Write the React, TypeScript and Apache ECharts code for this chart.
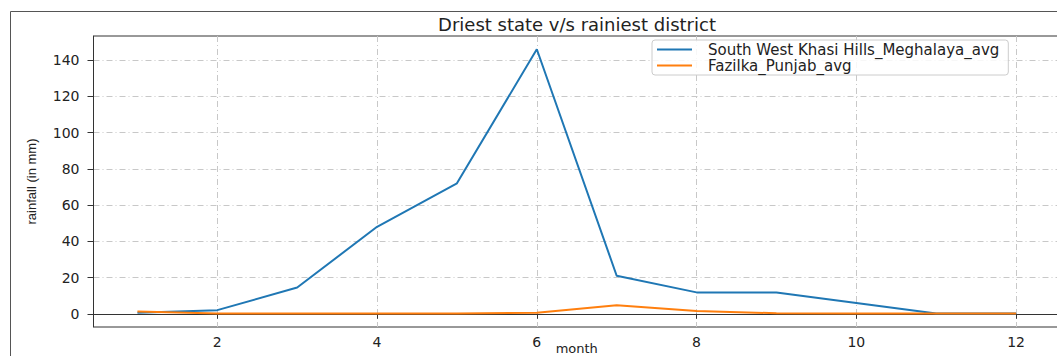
import React, { useEffect, useRef } from "react";
import * as echarts from "echarts";

const months = [1, 2, 3, 4, 5, 6, 7, 8, 9, 10, 11, 12];
const khasiHills = [0.5, 2, 14.5, 48, 72, 146, 21, 11.8, 11.8, 6, 0.1, 0.1];
const fazilka = [1.3, 0.2, 0.1, 0.1, 0.2, 0.6, 4.7, 1.5, 0.3, 0.1, 0.1, 0.1];
const xTicks = [2, 4, 6, 8, 10, 12];
const yTicks = [0, 20, 40, 60, 80, 100, 120, 140];
const seriesNames = ["South West Khasi Hills_Meghalaya_avg", "Fazilka_Punjab_avg"];

const FONT = "DejaVu Sans";

export default function App() {
  const ref = useRef<HTMLDivElement>(null);
  useEffect(() => {
    if (!ref.current) return;
    const chart = echarts.init(ref.current, undefined, { renderer: "svg" });
    const gridLine = { color: "#c8c8c8", width: 1, type: [6, 3, 1, 3] as any };
    chart.setOption({
      animation: false,
      backgroundColor: "#ffffff",
      title: {
        text: "Driest state v/s rainiest district",
        left: 577,
        textAlign: "center",
        top: 15,
        padding: 0,
        textStyle: { fontFamily: FONT, fontSize: 18, fontWeight: "normal", color: "#222" },
      },
      graphic: [
        {
          type: "rect",
          shape: { x: 10.5, y: 11.5, width: 1100, height: 400 },
          style: { fill: "none", stroke: "#555", lineWidth: 1 },
          silent: true,
        },
      ],
      legend: {
        orient: "vertical",
        left: 652,
        top: 40,
        padding: [2, 9, 2, 5],
        itemGap: 1,
        itemWidth: 35,
        itemHeight: 2,
        icon: "rect",
        borderColor: "#cccccc",
        borderWidth: 1,
        borderRadius: 3,
        backgroundColor: "rgba(255,255,255,0.85)",
        textStyle: { fontFamily: FONT, fontSize: 15, color: "#222", lineHeight: 15, padding: [0, 0, 0, 11] },
        data: seriesNames,
      },
      grid: {
        left: 93.5,
        top: 36,
        width: 966.5,
        height: 291,
        show: true,
        borderColor: "#333",
        borderWidth: 1,
        containLabel: false,
        outerBoundsMode: "none",
      },
      xAxis: {
        type: "value",
        min: 0.45,
        max: 12.55,
        name: "month",
        nameLocation: "middle",
        nameGap: 15,
        nameMoveOverlap: false,
        nameTextStyle: { fontFamily: FONT, fontSize: 13, lineHeight: 13, color: "#222" },
        axisLine: { show: true, lineStyle: { color: "#333", width: 1 } },
        axisTick: { show: true, length: 5, customValues: xTicks, lineStyle: { color: "#333" } },
        axisLabel: { customValues: xTicks, margin: 8, fontFamily: FONT, fontSize: 14, color: "#222" },
        splitLine: { show: true, lineStyle: gridLine },
      },
      yAxis: {
        type: "value",
        min: -7.3,
        max: 153.3,
        name: "rainfall (in mm)",
        nameLocation: "middle",
        nameRotate: 90,
        nameGap: 56,
        nameMoveOverlap: false,
        nameTextStyle: { fontFamily: "Liberation Sans", fontSize: 13, color: "#222" },
        axisLine: { show: true, lineStyle: { color: "#333", width: 1 } },
        axisTick: { show: true, length: 6, customValues: yTicks, lineStyle: { color: "#333" } },
        axisLabel: { customValues: yTicks, margin: 14, fontFamily: FONT, fontSize: 14, color: "#222" },
        splitLine: { show: true, lineStyle: gridLine },
      },
      series: [
        {
          name: seriesNames[0],
          type: "line",
          data: months.map((m, i) => [m, khasiHills[i]]),
          symbol: "none",
          smooth: false,
          lineStyle: { color: "#1f77b4", width: 2 },
          itemStyle: { color: "#1f77b4" },
          z: 2,
        },
        {
          name: seriesNames[1],
          type: "line",
          data: months.map((m, i) => [m, fazilka[i]]),
          symbol: "none",
          smooth: false,
          lineStyle: { color: "#ff7f0e", width: 2 },
          itemStyle: { color: "#ff7f0e" },
          z: 3,
        },
      ],
    });
    return () => chart.dispose();
  }, []);
  return (
    <div
      ref={ref}
      style={{ position: "absolute", left: 0, top: 0, width: 1057, height: 356, overflow: "hidden" }}
    />
  );
}
